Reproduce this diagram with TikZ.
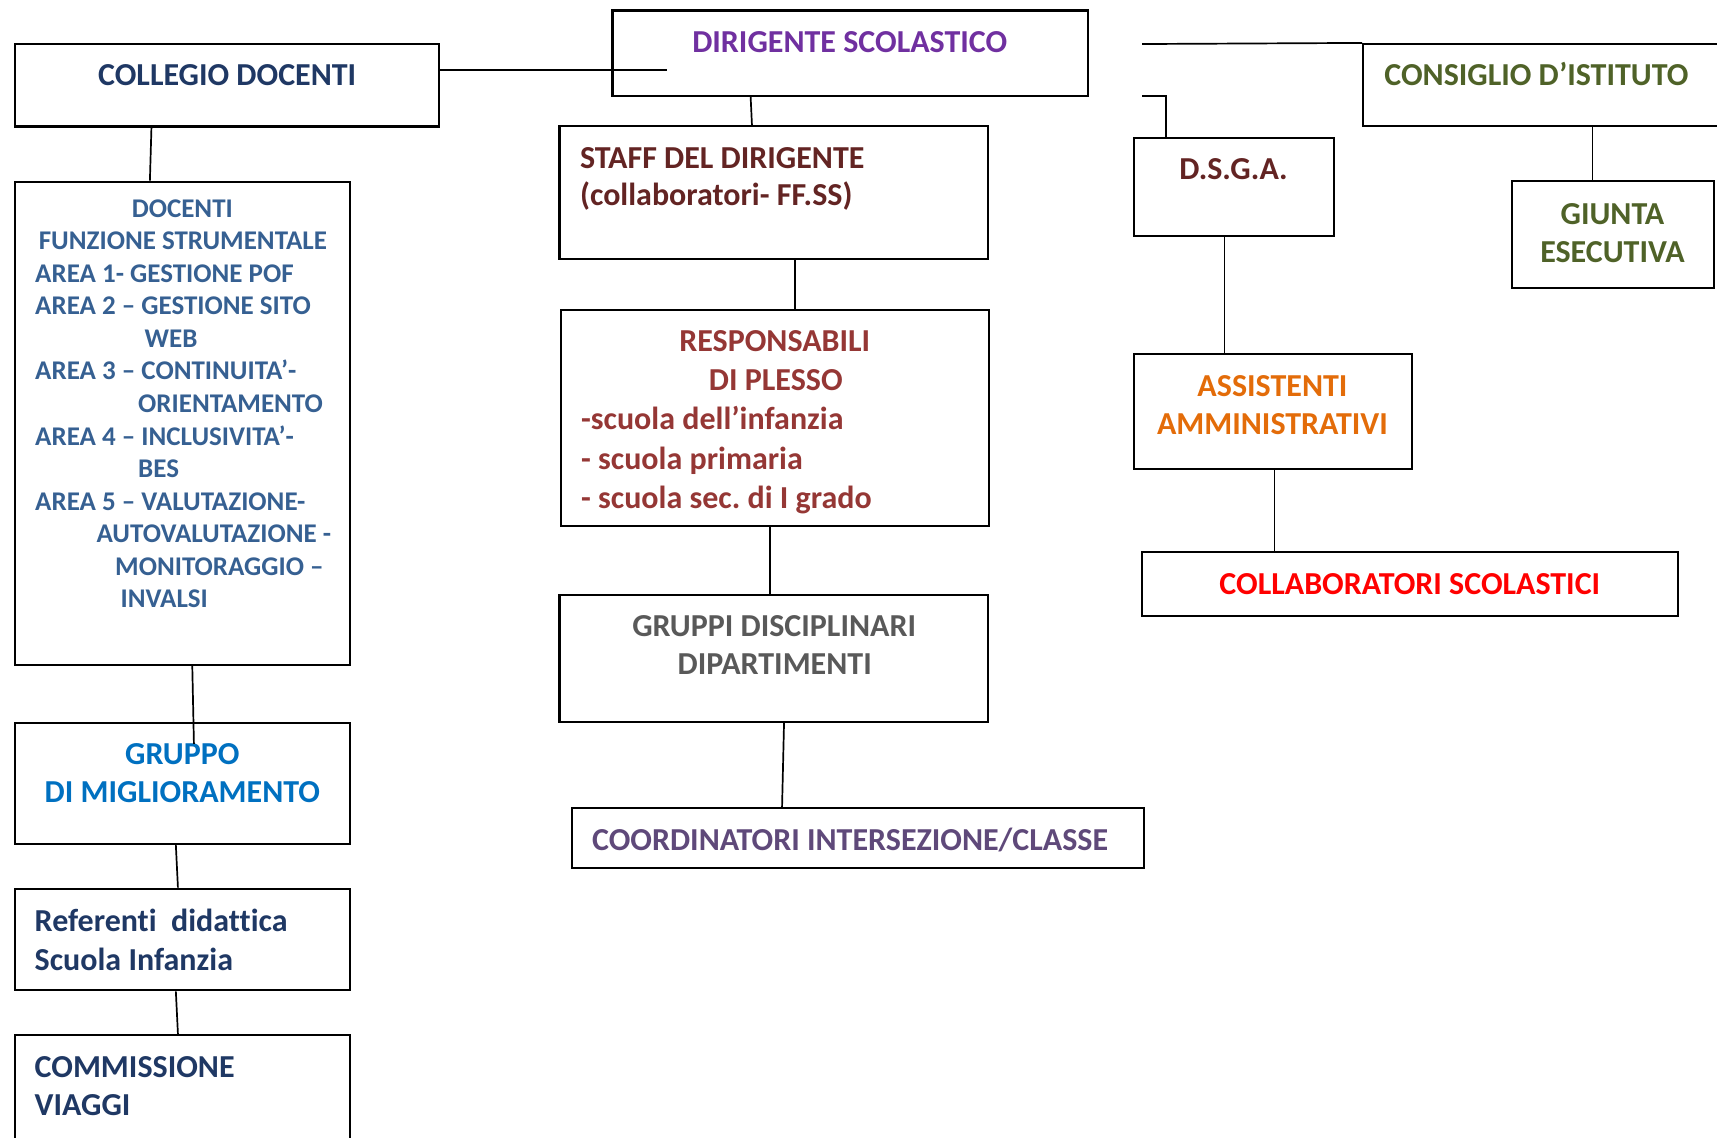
\documentclass[tikz,border=0pt]{standalone}
\usepackage{fontspec}
\setmainfont{Carlito}[Ligatures=NoCommon]
\frenchspacing
\usetikzlibrary{fit,calc}
\definecolor{cDir}{HTML}{7030A0}
\definecolor{cNavy}{HTML}{1F3864}
\definecolor{cFS}{HTML}{366092}
\definecolor{cStaff}{HTML}{632423}
\definecolor{cResp}{HTML}{953735}
\definecolor{cGray}{HTML}{595959}
\definecolor{cCoord}{HTML}{5F497A}
\definecolor{cGreen}{HTML}{4F6228}
\definecolor{cOrange}{HTML}{E36C09}
\definecolor{cRed}{HTML}{FF0000}
\definecolor{cBlue}{HTML}{0070C0}
\begin{document}
\begin{tikzpicture}[x=1.095pt,y=-1.095pt,
  box/.style={draw=black,line width=2.2pt,inner sep=0pt},
  wire/.style={draw=black,line width=1.7pt},
  big/.style={inner sep=0pt,font=\bfseries\fontsize{32}{38}\selectfont},
  small/.style={inner sep=0pt,font=\bfseries\fontsize{27}{32}\selectfont}]
\useasboundingbox (0,0) rectangle (1568,1039);
\clip (0,0) rectangle (1568,1039);

% ---------- boxes ----------
\node[box,fit={(13.5,40.5)(401,115.5)}] (collegio) {};
\node[box,fit={(559.3,9.5)(993.3,87.4)}] (dirigente) {};
\node[box,fit={(1245,40.2)(1580,115.4)}] (consiglio) {};
\node[box,fit={(511,115.1)(902.2,236.2)}] (staff) {};
\node[box,fit={(1035.5,125.7)(1218.1,215.8)}] (dsga) {};
\node[box,fit={(1380.5,165.6)(1565.2,263.3)}] (giunta) {};
\node[box,fit={(13.7,165.9)(319.6,607.3)}] (docenti) {};
\node[box,fit={(512,283)(903,480)}] (resp) {};
\node[box,fit={(1035.5,323.6)(1289.2,428)}] (assist) {};
\node[box,fit={(1043,504.4)(1532.2,562.6)}] (collab) {};
\node[box,fit={(511,543)(902,659)}] (gruppi) {};
\node[box,fit={(522,738)(1045,793)}] (coord) {};
\node[box,fit={(13.7,660)(319.6,770.8)}] (gruppo) {};
\node[box,fit={(13.7,811.6)(319.6,904.4)}] (refer) {};
\node[box,fit={(13.7,945.2)(319.6,1050)}] (commis) {};

% ---------- texts ----------
\node[big,text=cNavy,anchor=base] (tcollegio) at (207.5,78) {COLLEGIO DOCENTI};
\node[big,text=cDir,anchor=base] (tdirigente) at (776,47.8) {DIRIGENTE SCOLASTICO};
\node[big,text=cGreen,anchor=base west] (tconsiglio) at (1264,78) {CONSIGLIO D’ISTITUTO};
\node[big,text=cStaff,anchor=base west] (tstaff1) at (529.5,153.5) {STAFF DEL DIRIGENTE};
\node[big,text=cStaff,anchor=base west] (tstaff2) at (529.5,188) {(collaboratori- FF.SS)};
\node[big,text=cStaff,anchor=base] (tdsga) at (1126.5,164) {D.S.G.A.};
\node[big,text=cGreen,anchor=base] (tgiunta1) at (1472.5,205) {GIUNTA};
\node[big,text=cGreen,anchor=base] (tgiunta2) at (1472.5,240) {ESECUTIVA};
\node[big,text=cOrange,anchor=base] (tass1) at (1162,362) {ASSISTENTI};
\node[big,text=cOrange,anchor=base] (tass2) at (1162,397) {AMMINISTRATIVI};
\node[big,text=cRed,anchor=base] (tcollab) at (1287.5,543) {COLLABORATORI SCOLASTICI};
\node[big,text=cResp,anchor=base] (tresp1) at (707.5,321) {RESPONSABILI};
\node[big,text=cResp,anchor=base] (tresp2) at (708.5,356.8) {DI PLESSO};
\node[big,text=cResp,anchor=base west] (tresp3) at (530.5,392.5) {-scuola dell’infanzia};
\node[big,text=cResp,anchor=base west] (tresp4) at (530.5,428.3) {- scuola primaria};
\node[big,text=cResp,anchor=base west] (tresp5) at (530.5,464) {- scuola sec. di I grado};
\node[big,text=cGray,anchor=base] (tgr1) at (707,581) {GRUPPI DISCIPLINARI};
\node[big,text=cGray,anchor=base] (tgr2) at (707.5,616) {DIPARTIMENTI};
\node[big,text=cCoord,anchor=base west] (tcoord) at (540.5,777) {COORDINATORI INTERSEZIONE/CLASSE};
\node[big,text=cBlue,anchor=base] (tgm1) at (166.5,698) {GRUPPO};
\node[big,text=cBlue,anchor=base] (tgm2) at (166.5,733) {DI MIGLIORAMENTO};
\node[big,text=cNavy,anchor=base west] (tref1) at (31.5,851) {Referenti~~didattica};
\node[big,text=cNavy,anchor=base west] (tref2) at (31.5,886) {Scuola Infanzia};
\node[big,text=cNavy,anchor=base west] (tcom1) at (31.5,984) {COMMISSIONE};
\node[big,text=cNavy,anchor=base west] (tcom2) at (31.5,1019) {VIAGGI};

\node[small,text=cFS,anchor=base] (fs1) at (166.5,198.5) {DOCENTI};
\node[small,text=cFS,anchor=base] (fs2) at (167,228) {FUNZIONE STRUMENTALE};
\node[small,text=cFS,anchor=base west] (fs3) at (32,257.8) {AREA 1- GESTIONE POF};
\node[small,text=cFS,anchor=base west] (fs4) at (32,287.5) {AREA 2 – GESTIONE SITO};
\node[small,text=cFS,anchor=base west] (fs5) at (132,317.3) {WEB};
\node[small,text=cFS,anchor=base west] (fs6) at (32,347) {AREA 3 – CONTINUITA’-};
\node[small,text=cFS,anchor=base west] (fs7) at (126,376.7) {ORIENTAMENTO};
\node[small,text=cFS,anchor=base west] (fs8) at (32,406.5) {AREA 4 – INCLUSIVITA’-};
\node[small,text=cFS,anchor=base west] (fs9) at (126,436.2) {BES};
\node[small,text=cFS,anchor=base west] (fs10) at (32,465.9) {AREA 5 – VALUTAZIONE-};
\node[small,text=cFS,anchor=base west] (fs11) at (88,495.6) {AUTOVALUTAZIONE -};
\node[small,text=cFS,anchor=base west] (fs12) at (105,525.4) {MONITORAGGIO –};
\node[small,text=cFS,anchor=base west] (fs13) at (110,555.1) {INVALSI};

% ---------- connectors ----------
\coordinate (dl) at (609.5,64);
\draw[wire] (collegio.east |- dl) -- (dl);
\draw[wire] ($(dirigente.south west)+(127.2,0)$) -- ($(staff.north west)+(176.7,0)$);
\draw[wire] ($(staff.south west)+(215.7,0)$) -- ($(resp.north west)+(214.7,0)$);
\draw[wire] ($(resp.south west)+(192.4,0)$) -- ($(gruppi.north west)+(193.4,0)$);
\draw[wire] ($(gruppi.south west)+(206,0)$) -- ($(coord.north west)+(193.2,0)$);
\draw[wire] ($(collegio.south west)+(125.8,0)$) -- ($(docenti.north west)+(124.2,0)$);
\draw[wire] ($(docenti.south west)+(162.9,0)$) -- ($(gruppo.north west)+(164.4,20.4)$);
\draw[wire] ($(gruppo.south west)+(147.9,0)$) -- ($(refer.north west)+(149.8,0)$);
\draw[wire] ($(refer.south west)+(147.9,0)$) -- ($(commis.north west)+(149.8,0)$);
\coordinate (ctop) at (1043,40.2);
\draw[wire] (ctop) -- (consiglio.north west);
\coordinate (dtop) at (1043,87.4);
\draw[wire] (dtop) -| ($(dsga.north west)+(30.5,0)$);
\draw[wire] ($(consiglio.south west)+(210.3,0)$) -- ($(giunta.north west)+(74.8,0)$);
\draw[wire] ($(dsga.south west)+(83.7,0)$) -- ($(assist.north west)+(83.7,0)$);
\draw[wire] ($(assist.south west)+(129.4,0)$) -- ($(collab.north west)+(121.9,0)$);
\end{tikzpicture}
\end{document}
